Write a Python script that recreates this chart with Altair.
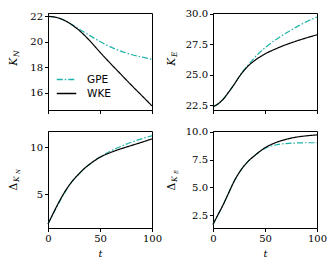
import altair as alt
import pandas as pd

t = [0, 5, 10, 15, 20, 25, 30, 35, 40, 50, 60, 70, 80, 90, 100]
models = ["GPE", "WKE"]

kn_gpe = [22.0, 21.97, 21.88, 21.72, 21.5, 21.25, 21.0, 20.75, 20.5, 20.02, 19.6, 19.27, 19.0, 18.8, 18.63]
kn_wke = [22.0, 21.97, 21.88, 21.72, 21.5, 21.22, 20.9, 20.52, 20.1, 19.18, 18.3, 17.45, 16.6, 15.78, 14.95]
ke_gpe = [22.36, 22.6, 23.0, 23.55, 24.15, 24.8, 25.4, 25.9, 26.4, 27.2, 27.85, 28.4, 28.9, 29.35, 29.73]
ke_wke = [22.36, 22.6, 23.0, 23.55, 24.15, 24.8, 25.35, 25.8, 26.15, 26.7, 27.1, 27.45, 27.75, 28.02, 28.27]
dkn_gpe = [1.8, 2.9, 3.95, 4.95, 5.85, 6.6, 7.2, 7.75, 8.2, 8.97, 9.6, 10.1, 10.55, 10.92, 11.25]
dkn_wke = [1.8, 2.95, 4.05, 5.05, 5.9, 6.6, 7.2, 7.75, 8.2, 8.95, 9.45, 9.85, 10.2, 10.55, 10.92]
dke_gpe = [1.7, 2.6, 3.5, 4.5, 5.5, 6.3, 6.95, 7.45, 7.85, 8.5, 8.8, 8.93, 8.98, 9.0, 9.0]
dke_wke = [1.7, 2.6, 3.5, 4.5, 5.5, 6.3, 6.95, 7.45, 7.85, 8.55, 9.0, 9.3, 9.5, 9.62, 9.7]

x_ticks = [0, 50, 100]

TEAL = "#20b2aa"
SERIF = "DejaVu Serif"
SANS = "DejaVu Sans"
W, H = 104, 97
FS = 10


def long(gpe, wke):
    rows = []
    for m, vals in zip(models, [gpe, wke]):
        for ti, v in zip(t, vals):
            rows.append({"t": ti, "v": v, "model": m})
    return pd.DataFrame(rows)


one = pd.DataFrame({"k": [0]})


def label_text(txt, x, y, size, align, italic=True):
    return alt.Chart(one).mark_text(
        text=txt, angle=270, align=align, baseline="alphabetic",
        font=SERIF, fontSize=size, fontStyle="italic" if italic else "normal",
        color="black",
    ).encode(x=alt.value(x), y=alt.value(y))


def panel(gpe, wke, ydom, yticks, fmt, bottom, titles, legend=False):
    if legend:
        leg = alt.Legend(
            title=None, orient="none", legendX=11, legendY=59,
            symbolType="M-1.5,0H1.5", symbolSize=169, symbolStrokeWidth=1.3,
            labelFont=SANS, labelFontSize=10.5, labelOffset=13,
            rowPadding=1, padding=0, labelColor="black",
        )
    else:
        leg = None
    xaxis = alt.Axis(
        values=x_ticks, labels=bottom, title="t" if bottom else None,
        titleFontStyle="italic", titleFont=SERIF, titleFontWeight="normal",
        titleFontSize=FS, titlePadding=5, labelFont=SERIF, labelFontSize=FS,
        tickSize=3.5, labelPadding=2, grid=False, domainColor="black",
        tickColor="black", labelColor="black", titleColor="black",
        labelFlush=False,
    )
    yaxis = alt.Axis(
        values=yticks, format=fmt, title=None, labelFont=SERIF, labelFontSize=FS,
        tickSize=3.5, labelPadding=2, grid=False, domainColor="black",
        tickColor="black", labelColor="black",
    )
    lines = alt.Chart(long(gpe, wke)).mark_line(strokeWidth=1.2, interpolate="monotone").encode(
        x=alt.X("t:Q", scale=alt.Scale(domain=[0, 100], nice=False, zero=False), axis=xaxis),
        y=alt.Y("v:Q", scale=alt.Scale(domain=ydom, nice=False, zero=False), axis=yaxis),
        color=alt.Color("model:N", scale=alt.Scale(domain=models, range=[TEAL, "black"]),
                        legend=leg),
        strokeDash=alt.StrokeDash("model:N", scale=alt.Scale(domain=models, range=[[6, 2, 1.5, 2], [1, 0]]),
                                  legend=leg),
        order=alt.Order("model:N", sort="descending"),
    )
    layers = [lines] + [label_text(*a) for a in titles]
    return alt.layer(*layers).properties(width=W, height=H)


p1 = panel(kn_gpe, kn_wke, [14.63, 22.27], [16, 18, 20, 22], "d", False,
           [("K", -31, 45, 10.5, "right"), ("N", -29, 44, 7.5, "left")], legend=True)
p2 = panel(ke_gpe, ke_wke, [22.09, 30.06], [22.5, 25.0, 27.5, 30.0], ".1f", False,
           [("K", -38, 45, 10.5, "right"), ("E", -36, 44, 7.5, "left")])
p3 = panel(dkn_gpe, dkn_wke, [1.38, 11.76], [5, 10], "d", True,
           [("Δ", -31.5, 52, 10.5, "right", False), ("K", -29.5, 51, 7.5, "left"), ("N", -28, 43, 5.5, "left")])
p4 = panel(dke_gpe, dke_wke, [1.38, 10.05], [2.5, 5.0, 7.5, 10.0], ".1f", True,
           [("Δ", -38.5, 52, 10.5, "right", False), ("K", -36.5, 51, 7.5, "left"), ("E", -35, 43, 5.5, "left")])

chart = alt.concat(p1, p2, p3, p4, columns=2, spacing={"row": 21, "column": 61}, bounds="flush").properties(
    padding={"left": 0, "top": 0, "right": 0, "bottom": 0}
).configure_view(stroke="black", strokeWidth=1).configure_axis(domainWidth=1, tickWidth=1)

chart.save("out.html", embed_options={"renderer": "svg", "actions": False})
